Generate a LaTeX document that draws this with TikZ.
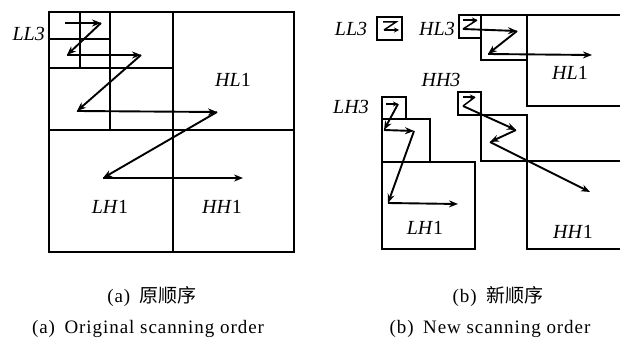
\documentclass[tikz,border=0pt]{standalone}
\usepackage{fontspec}
\setmainfont{Liberation Serif}
\newfontfamily\capfont[LetterSpace=5]{Liberation Serif}
\newfontfamily\cjk{Noto Sans CJK SC}
\usetikzlibrary{arrows.meta}
\begin{document}
\begin{tikzpicture}[x=1pt,y=-1pt,
  box/.style={draw,line width=1.7pt},
  arr/.style={line width=1.9pt,-{Stealth[length=9pt,width=7pt]}},
  sarr/.style={line width=1.5pt,-{Stealth[length=5pt,width=5pt]}},
  seg/.style={line width=1.5pt},
  lab/.style={font=\fontsize{20}{20}\selectfont, inner sep=0pt},
  captext/.style={font=\fontsize{19}{19}\capfont, inner sep=0pt}]
\useasboundingbox (0,0) rectangle (621,342);
% ---------- left: original order ----------
\draw[box] (49,12) rectangle (294,252);
\draw[box] (173,12) -- (173,252);
\draw[box] (49,130) -- (294,130);
\draw[box] (110,12) -- (110,130);
\draw[box] (49,68) -- (173,68);
\draw[box] (80,12) -- (80,68);
\draw[box] (49,39) -- (110,39);
\coordinate (a1) at (65,23);
\coordinate (a2) at (101,23);
\coordinate (a3) at (67,55);
\coordinate (a4) at (141,55);
\coordinate (a5) at (77,111);
\coordinate (a6) at (217,112);
\coordinate (a7) at (103,178);
\coordinate (a8) at (243,178);
\draw[arr] (a1) -- (a2);
\draw[arr] (a2) -- (a3);
\draw[arr] (a3) -- (a4);
\draw[arr] (a4) -- (a5);
\draw[arr] (a5) -- (a6);
\draw[arr] (a6) -- (a7);
\draw[arr] (a7) -- (a8);
\node[lab,anchor=east] (lLL3) at (45,34) {\textit{LL3}};
\node[lab] (lHL1) at (233,80) {\textit{HL}1};
\node[lab] (lLH1) at (110,207) {\textit{LH}1};
\node[lab] (lHH1) at (222,207) {\textit{HH}1};
% ---------- right: new order ----------
% LL3
\node[lab] (rLL3) at (351,29) {\textit{LL3}};
\draw[box] (377,17) rectangle (402,40);
\draw[seg] (383,22) -- (396,22) -- (384,30);
\draw[sarr] (384,30) -- (399,30);
% HL
\node[lab] (rHL3) at (437,29) {\textit{HL3}};
\draw[box] (459,15) rectangle (481,38);
\draw[box] (481,15) rectangle (527,60);
\draw[box] (620,15) -- (527,15) -- (527,106) -- (620,106);
\coordinate (h1) at (463,20);
\coordinate (h2) at (477,20);
\coordinate (h3) at (463,29);
\coordinate (h4) at (517,31);
\coordinate (h5) at (488,54);
\coordinate (h6) at (592,55);
\draw[sarr] (h1) -- (h2);
\draw[seg] (h2) -- (h3);
\draw[arr] (h3) -- (h4);
\draw[arr] (h4) -- (h5);
\draw[arr] (h5) -- (h6);
\node[lab] (rHL1) at (570,73) {\textit{HL}1};
% HH
\node[lab] (rHH3) at (441,80) {\textit{HH3}};
\draw[box] (458,92) rectangle (481,115);
\draw[box] (481,115) rectangle (527,161);
\draw[box] (620,161) -- (527,161) -- (527,249) -- (620,249);
\coordinate (g1) at (463,97);
\coordinate (g2) at (475,97);
\coordinate (g3) at (463,106);
\coordinate (g4) at (516,130);
\coordinate (g5) at (490,142);
\coordinate (g6) at (590,192);
\draw[sarr] (g1) -- (g2);
\draw[seg] (g2) -- (g3);
\draw[arr] (g3) -- (g4);
\draw[arr] (g4) -- (g5);
\draw[arr] (g5) -- (g6);
\node[lab] (rHH1) at (573,232) {\textit{HH}1};
% LH
\node[lab] (rLH3) at (351,107) {\textit{LH3}};
\draw[box] (382,97) rectangle (406,119);
\draw[box] (382,119) rectangle (430,162);
\draw[box] (382,162) rectangle (475,249);
\coordinate (k1) at (386,104);
\coordinate (k2) at (398,104);
\coordinate (k3) at (384,130);
\coordinate (k4) at (414,131);
\coordinate (k5) at (388,203);
\coordinate (k6) at (458,204);
\draw[sarr] (k1) -- (k2);
\draw[arr] (k2) -- (k3);
\draw[arr] (k3) -- (k4);
\draw[arr] (k4) -- (k5);
\draw[arr] (k5) -- (k6);
\node[lab] (rLH1) at (425,228) {\textit{LH}1};
% ---------- captions ----------
\node[captext] (ca1) at (152,296) {(a)\enspace{\cjk 原顺序}};
\node[captext] (ca2) at (148,329) {(a)\enspace Original scanning order};
\node[captext] (cb1) at (498,296) {(b)\enspace{\cjk 新顺序}};
\node[captext] (cb2) at (490,329) {(b)\enspace New scanning order};
\end{tikzpicture}
\end{document}
